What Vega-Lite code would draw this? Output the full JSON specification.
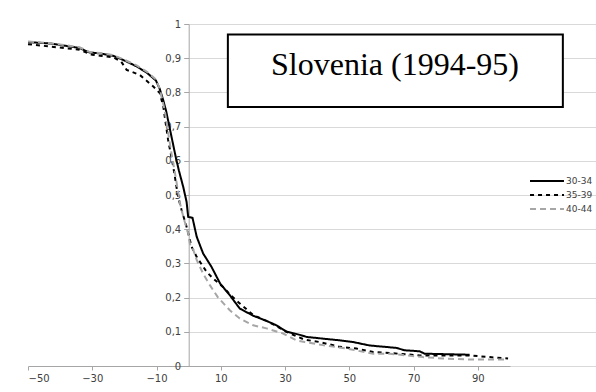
{
  "$schema": "https://vega.github.io/schema/vega-lite/v6.json",
  "width": 482,
  "height": 342,
  "autosize": "none",
  "padding": {"left": 28, "top": 24, "right": 86, "bottom": 26},
  "background": "white",
  "config": {
    "view": {"stroke": null},
    "font": "DejaVu Sans",
    "axis": {"labelFont": "DejaVu Sans", "labelFontSize": 10, "labelColor": "#404040", "domainColor": "#a6a6a6", "tickColor": "#a6a6a6", "gridColor": "#d9d9d9", "title": null},
    "axisY": {"values": [0, 0.1, 0.2, 0.3, 0.4, 0.5, 0.6, 0.7, 0.8, 0.9, 1], "labelOverlap": false, "offset": -160.7, "tickSize": 5, "labelPadding": 3, "grid": true, "labelExpr": "replace(toString(datum.value), '.', ',')"}
  },
  "datasets": {
    "curves": [
      {"group": "30-34", "t": -50, "p": 0.947},
      {"group": "30-34", "t": -43, "p": 0.943},
      {"group": "30-34", "t": -34, "p": 0.930},
      {"group": "30-34", "t": -31, "p": 0.917},
      {"group": "30-34", "t": -27.6, "p": 0.914},
      {"group": "30-34", "t": -23.5, "p": 0.907},
      {"group": "30-34", "t": -20.4, "p": 0.895},
      {"group": "30-34", "t": -16.2, "p": 0.876},
      {"group": "30-34", "t": -13.1, "p": 0.858},
      {"group": "30-34", "t": -10.2, "p": 0.835},
      {"group": "30-34", "t": -9, "p": 0.81},
      {"group": "30-34", "t": -8, "p": 0.78},
      {"group": "30-34", "t": -7, "p": 0.745},
      {"group": "30-34", "t": -6, "p": 0.70},
      {"group": "30-34", "t": -5, "p": 0.655},
      {"group": "30-34", "t": -4, "p": 0.61},
      {"group": "30-34", "t": -3, "p": 0.57},
      {"group": "30-34", "t": -1.7, "p": 0.524},
      {"group": "30-34", "t": -0.65, "p": 0.48},
      {"group": "30-34", "t": -0.15, "p": 0.436},
      {"group": "30-34", "t": 1.2, "p": 0.433},
      {"group": "30-34", "t": 2.5, "p": 0.378},
      {"group": "30-34", "t": 4.5, "p": 0.329},
      {"group": "30-34", "t": 7.1, "p": 0.29},
      {"group": "30-34", "t": 9.8, "p": 0.241},
      {"group": "30-34", "t": 12.8, "p": 0.207},
      {"group": "30-34", "t": 15.9, "p": 0.168},
      {"group": "30-34", "t": 20.1, "p": 0.147},
      {"group": "30-34", "t": 24.2, "p": 0.132},
      {"group": "30-34", "t": 27.3, "p": 0.119},
      {"group": "30-34", "t": 30.4, "p": 0.101},
      {"group": "30-34", "t": 34.6, "p": 0.091},
      {"group": "30-34", "t": 36.7, "p": 0.085},
      {"group": "30-34", "t": 41.8, "p": 0.080},
      {"group": "30-34", "t": 47, "p": 0.075},
      {"group": "30-34", "t": 51.2, "p": 0.070},
      {"group": "30-34", "t": 56.3, "p": 0.060},
      {"group": "30-34", "t": 64.6, "p": 0.053},
      {"group": "30-34", "t": 67.2, "p": 0.046},
      {"group": "30-34", "t": 71.9, "p": 0.043},
      {"group": "30-34", "t": 73.4, "p": 0.036},
      {"group": "30-34", "t": 87.4, "p": 0.033},
      {"group": "35-39", "t": -50, "p": 0.941},
      {"group": "35-39", "t": -43, "p": 0.934},
      {"group": "35-39", "t": -34, "p": 0.925},
      {"group": "35-39", "t": -30, "p": 0.910},
      {"group": "35-39", "t": -27.6, "p": 0.907},
      {"group": "35-39", "t": -23.5, "p": 0.903},
      {"group": "35-39", "t": -21, "p": 0.89},
      {"group": "35-39", "t": -19.3, "p": 0.866},
      {"group": "35-39", "t": -15.2, "p": 0.851},
      {"group": "35-39", "t": -11, "p": 0.817},
      {"group": "35-39", "t": -9, "p": 0.798},
      {"group": "35-39", "t": -7.9, "p": 0.759},
      {"group": "35-39", "t": -6.4, "p": 0.661},
      {"group": "35-39", "t": -4.8, "p": 0.583},
      {"group": "35-39", "t": -3.3, "p": 0.495},
      {"group": "35-39", "t": -2.2, "p": 0.456},
      {"group": "35-39", "t": -0.65, "p": 0.407},
      {"group": "35-39", "t": 0.9, "p": 0.349},
      {"group": "35-39", "t": 2.5, "p": 0.319},
      {"group": "35-39", "t": 5.6, "p": 0.275},
      {"group": "35-39", "t": 7.6, "p": 0.256},
      {"group": "35-39", "t": 10.7, "p": 0.231},
      {"group": "35-39", "t": 13.3, "p": 0.205},
      {"group": "35-39", "t": 15.9, "p": 0.183},
      {"group": "35-39", "t": 20.1, "p": 0.149},
      {"group": "35-39", "t": 24.2, "p": 0.132},
      {"group": "35-39", "t": 27.3, "p": 0.117},
      {"group": "35-39", "t": 30.4, "p": 0.100},
      {"group": "35-39", "t": 33.5, "p": 0.087},
      {"group": "35-39", "t": 36.1, "p": 0.077},
      {"group": "35-39", "t": 40.8, "p": 0.070},
      {"group": "35-39", "t": 47, "p": 0.056},
      {"group": "35-39", "t": 52.2, "p": 0.051},
      {"group": "35-39", "t": 57.4, "p": 0.041},
      {"group": "35-39", "t": 62.6, "p": 0.038},
      {"group": "35-39", "t": 71.9, "p": 0.031},
      {"group": "35-39", "t": 87.4, "p": 0.031},
      {"group": "35-39", "t": 93.7, "p": 0.026},
      {"group": "35-39", "t": 99.4, "p": 0.022},
      {"group": "40-44", "t": -50, "p": 0.949},
      {"group": "40-44", "t": -43, "p": 0.944},
      {"group": "40-44", "t": -34, "p": 0.932},
      {"group": "40-44", "t": -31, "p": 0.919},
      {"group": "40-44", "t": -27.6, "p": 0.915},
      {"group": "40-44", "t": -23.5, "p": 0.909},
      {"group": "40-44", "t": -20.4, "p": 0.897},
      {"group": "40-44", "t": -16.2, "p": 0.879},
      {"group": "40-44", "t": -13.1, "p": 0.861},
      {"group": "40-44", "t": -10.2, "p": 0.838},
      {"group": "40-44", "t": -9, "p": 0.81},
      {"group": "40-44", "t": -7.5, "p": 0.75},
      {"group": "40-44", "t": -6.5, "p": 0.69},
      {"group": "40-44", "t": -5.5, "p": 0.63},
      {"group": "40-44", "t": -4, "p": 0.55},
      {"group": "40-44", "t": -2.7, "p": 0.476},
      {"group": "40-44", "t": -1.5, "p": 0.43},
      {"group": "40-44", "t": -0.15, "p": 0.388},
      {"group": "40-44", "t": 0.4, "p": 0.356},
      {"group": "40-44", "t": 1, "p": 0.352},
      {"group": "40-44", "t": 2.5, "p": 0.31},
      {"group": "40-44", "t": 4.5, "p": 0.27},
      {"group": "40-44", "t": 6.5, "p": 0.238},
      {"group": "40-44", "t": 9, "p": 0.202},
      {"group": "40-44", "t": 12.8, "p": 0.163},
      {"group": "40-44", "t": 15.9, "p": 0.139},
      {"group": "40-44", "t": 20.1, "p": 0.119},
      {"group": "40-44", "t": 24.2, "p": 0.110},
      {"group": "40-44", "t": 29.4, "p": 0.095},
      {"group": "40-44", "t": 33.5, "p": 0.075},
      {"group": "40-44", "t": 36.1, "p": 0.070},
      {"group": "40-44", "t": 41.8, "p": 0.061},
      {"group": "40-44", "t": 49.1, "p": 0.051},
      {"group": "40-44", "t": 57.4, "p": 0.036},
      {"group": "40-44", "t": 62.6, "p": 0.036},
      {"group": "40-44", "t": 72.9, "p": 0.026},
      {"group": "40-44", "t": 79.1, "p": 0.022},
      {"group": "40-44", "t": 87.4, "p": 0.019},
      {"group": "40-44", "t": 98.8, "p": 0.019}
    ],
    "titlebox": [{"label": "Slovenia (1994-95)"}]
  },
  "layer": [
    {
      "data": {"name": "curves"},
      "mark": {"type": "line", "strokeWidth": 2, "clip": false},
      "encoding": {
        "x": {"field": "t", "type": "quantitative",
              "scale": {"domain": [-50, 100], "nice": false, "zero": false},
              "axis": {"values": [-50, -30, -10, 10, 30, 50, 70, 90], "grid": false, "tickSize": 4, "labelPadding": 3}},
        "y": {"field": "p", "type": "quantitative",
              "scale": {"domain": [0, 1], "nice": false}},
        "color": {"field": "group", "type": "nominal",
                  "scale": {"domain": ["30-34", "35-39", "40-44"], "range": ["#000000", "#000000", "#a6a6a6"]},
                  "legend": {"title": null, "orient": "none", "legendX": 513.5, "legendY": 151.5, "symbolType": "M-4,0H4", "symbolSize": 72, "symbolStrokeWidth": 2, "labelFontSize": 9, "labelColor": "#404040", "labelFont": "DejaVu Sans", "labelOffset": 13.5, "rowPadding": 3, "padding": 0}},
        "strokeDash": {"field": "group", "type": "nominal",
                  "scale": {"domain": ["30-34", "35-39", "40-44"], "range": [[1, 0], [4, 4], [6, 4]]},
                  "legend": {"title": null, "orient": "none", "legendX": 513.5, "legendY": 151.5, "symbolType": "M-4,0H4", "symbolSize": 72, "symbolStrokeWidth": 2, "labelFontSize": 9, "labelColor": "#404040", "labelFont": "DejaVu Sans", "labelOffset": 13.5, "rowPadding": 3, "padding": 0}}
      }
    },
    {
      "data": {"name": "titlebox"},
      "mark": {"type": "rect", "fill": "white", "stroke": "black", "strokeWidth": 2, "clip": false},
      "encoding": {
        "x": {"datum": 12.2, "type": "quantitative"},
        "x2": {"datum": 116.45},
        "y": {"datum": 0.9695, "type": "quantitative"},
        "y2": {"datum": 0.757}
      }
    },
    {
      "data": {"name": "titlebox"},
      "mark": {"type": "text", "font": "Liberation Serif", "fontSize": 32, "align": "center", "baseline": "alphabetic", "color": "black", "clip": false},
      "encoding": {
        "x": {"datum": 64.2, "type": "quantitative"},
        "y": {"datum": 0.8515, "type": "quantitative"},
        "text": {"field": "label"}
      }
    }
  ]
}
